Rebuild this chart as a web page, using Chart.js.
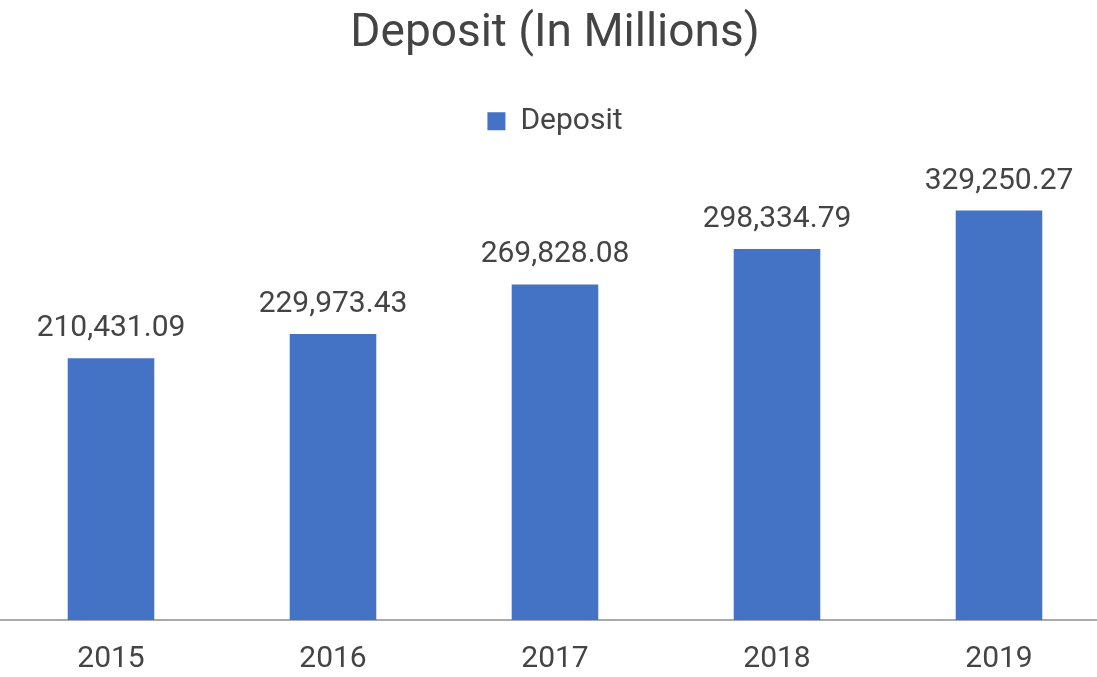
<!DOCTYPE html>
<html>
<head>
<meta charset="utf-8">
<title>Deposit (In Millions)</title>
<script src="https://cdn.jsdelivr.net/npm/chart.js@4/dist/chart.umd.min.js"></script>
<style>
  html, body { margin: 0; padding: 0; background: #fff; overflow: hidden; }
  #wrap { width: 1110px; height: 677px; }
</style>
</head>
<body>
<div id="wrap"><canvas id="chart" width="1110" height="677"></canvas></div>
<script>
const years = ['2015', '2016', '2017', '2018', '2019'];
const deposits = [210431.09, 229973.43, 269828.08, 298334.79, 329250.27];

const textColor = '#444444';
const barColor = '#4472c4';

// value labels above each bar
const valueLabels = {
    id: 'valueLabels',
    afterDatasetsDraw(chart) {
        const ctx = chart.ctx;
        const meta = chart.getDatasetMeta(0);
        ctx.save();
        ctx.font = '30px Roboto';
        ctx.fillStyle = textColor;
        ctx.textAlign = 'center';
        ctx.textBaseline = 'alphabetic';
        meta.data.forEach((bar, i) => {
            const txt = deposits[i].toLocaleString('en-US', { minimumFractionDigits: 2, maximumFractionDigits: 2 });
            ctx.fillText(txt, bar.x, bar.y - 22);
        });
        ctx.restore();
    }
};

new Chart(document.getElementById('chart'), {
    type: 'bar',
    data: {
        labels: years,
        datasets: [{
            label: 'Deposit',
            data: deposits,
            backgroundColor: barColor,
            categoryPercentage: 1,
            barPercentage: 0.39
        }]
    },
    options: {
        responsive: false,
        animation: false,
        layout: { padding: { top: 0, left: 0, right: 0, bottom: -21 } },
        plugins: {
            title: {
                display: true,
                text: 'Deposit (In Millions)',
                color: textColor,
                font: { family: 'Roboto', size: 46, weight: 'normal' },
                padding: { top: 7, bottom: 34 }
            },
            legend: {
                display: true,
                labels: {
                    color: textColor,
                    font: { family: 'Roboto', size: 30 },
                    boxWidth: 18,
                    boxHeight: 18,
                    padding: 10
                }
            },
            tooltip: { enabled: false }
        },
        scales: {
            x: {
                grid: { display: false, drawTicks: false },
                border: { display: true, color: '#aaaaaa', width: 2 },
                ticks: {
                    color: textColor,
                    font: { family: 'Roboto', size: 30 },
                    padding: 21
                }
            },
            y: {
                display: false,
                min: 0,
                max: 381000
            }
        }
    },
    plugins: [valueLabels]
});
</script>
</body>
</html>
